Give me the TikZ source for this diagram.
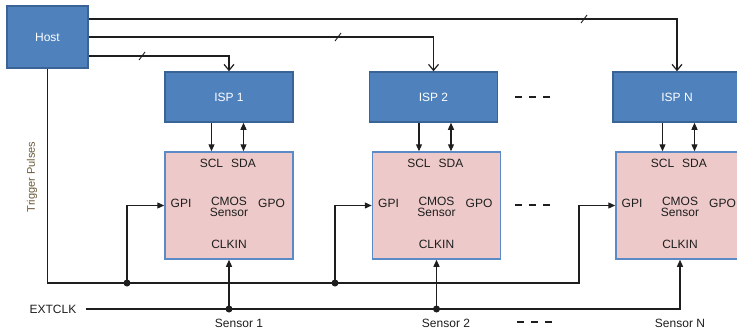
\documentclass[tikz,border=0pt]{standalone}
\usepackage{fontspec}
\setmainfont{Liberation Sans}
\usetikzlibrary{arrows.meta}
\definecolor{bluefill}{HTML}{4F81BD}
\definecolor{blueedge}{HTML}{3A6396}
\definecolor{pinkfill}{HTML}{EDC9C9}
\definecolor{pinkedge}{HTML}{5B8BC7}
\definecolor{txt}{HTML}{1E1E1E}
\definecolor{trig}{HTML}{6A5A3A}
\begin{document}
\begin{tikzpicture}[x=1pt,y=-1pt, font=\fontsize{12}{13}\selectfont,
 bluebox/.style={draw=blueedge, fill=bluefill, line width=1.5pt, text=white, minimum width=128pt, minimum height=50pt, inner sep=0pt},
 sensorbox/.style={draw=pinkedge, fill=pinkfill, line width=1.5pt, minimum width=128pt, minimum height=107pt, inner sep=0pt},
 lbl/.style={text=txt, inner sep=0pt},
 wire/.style={draw=txt, line width=1.2pt},
 hostarrow/.style={wire, -{Straight Barb[length=6pt,width=10pt]}},
 sigarrow/.style={wire, -{Triangle[length=7pt,width=6pt]}},
 botharrow/.style={wire, {Triangle[length=7pt,width=6pt]}-{Triangle[length=7pt,width=6pt]}},
 dot/.style={circle, fill=txt, inner sep=0pt, minimum size=7pt},
 tick/.style={draw=txt, line width=0.9pt},
 ellipsisdash/.style={line width=2pt, draw=txt, dash pattern=on 7pt off 7pt}
]
\useasboundingbox (0,0) rectangle (737,332);
\clip (0,0) rectangle (737,332);

% blue boxes
\node[bluebox, minimum width=81pt, minimum height=62pt] (host) at (47.5,37) {Host};
\node[bluebox] (isp1) at (229,97) {ISP 1};
\node[bluebox] (isp2) at (433.5,97) {ISP 2};
\node[bluebox] (ispN) at (677,97) {ISP N};

% sensor boxes
\node[sensorbox] (s1) at (229,205.5) {};
\node[sensorbox] (s2) at (436.5,205.5) {};
\node[sensorbox] (sN) at (680,205.5) {};

\foreach \n/\cx in {1/229, 2/436.5, N/680}{
  \begin{scope}[shift={(\cx,0)}]
    \node[lbl] (scl\n) at (-17.5,163) {SCL};
    \node[lbl] (sda\n) at (14.5,163) {SDA};
    \node[lbl] (gpi\n) at (-48,203) {GPI};
    \node[lbl, align=center] (cmos\n) at (0,207) {CMOS\\[-2pt]Sensor};
    \node[lbl] (gpo\n) at (42.5,203) {GPO};
    \node[lbl] (clk\n) at (0,244) {CLKIN};
  \end{scope}
  \draw[sigarrow] (isp\n.south -| scl\n) -- (s\n.north -| scl\n);
  \draw[botharrow] (isp\n.south -| sda\n) -- (s\n.north -| sda\n);
}

% host to ISP lines
\draw[hostarrow] ([yshift=18pt]host.east) -| (ispN.north);
\draw[hostarrow] (host.east) -| (isp2.north);
\draw[hostarrow] ([yshift=-19pt]host.east) -| (isp1.north);
\draw[tick] (584,19) ++(-3,4) -- ++(6,-8);
\draw[tick] (338,37) ++(-3,4) -- ++(6,-8);
\draw[tick] (142,56) ++(-3,4) -- ++(6,-8);

% trigger pulses bus
\node[text=trig, inner sep=0pt, rotate=90, font=\fontsize{11}{12}\selectfont] (trigtxt) at (32,177) {Trigger Pulses};
\draw[sigarrow] (host.south) |- (579,283) |- (sN.west);
\node[dot] (d1) at (127,283) {};
\node[dot] (d2) at (335,283) {};
\draw[sigarrow] (d1.center) |- (s1.west);
\draw[sigarrow] (d2.center) |- (s2.west);

% EXTCLK bus
\node[lbl] (ext) at (53,309) {EXTCLK};
\draw[sigarrow] (86,309) -| (sN.south);
\node[dot] (c1) at (s1.south |- ext) {};
\node[dot] (c2) at (s2.south |- ext) {};
\draw[sigarrow] (c1.center) -- (s1.south);
\draw[sigarrow] (c2.center) -- (s2.south);

% sensor labels
\node[lbl] (lab1) at (239,323) {Sensor 1};
\node[lbl] (lab2) at (446,323) {Sensor 2};
\node[lbl] (labN) at (680,323) {Sensor N};

% ellipses
\draw[ellipsisdash] (515,97) -- (551,97);
\draw[ellipsisdash] (515,205) -- (551,205);
\draw[ellipsisdash] (517,322) -- (553,322);
\end{tikzpicture}
\end{document}
